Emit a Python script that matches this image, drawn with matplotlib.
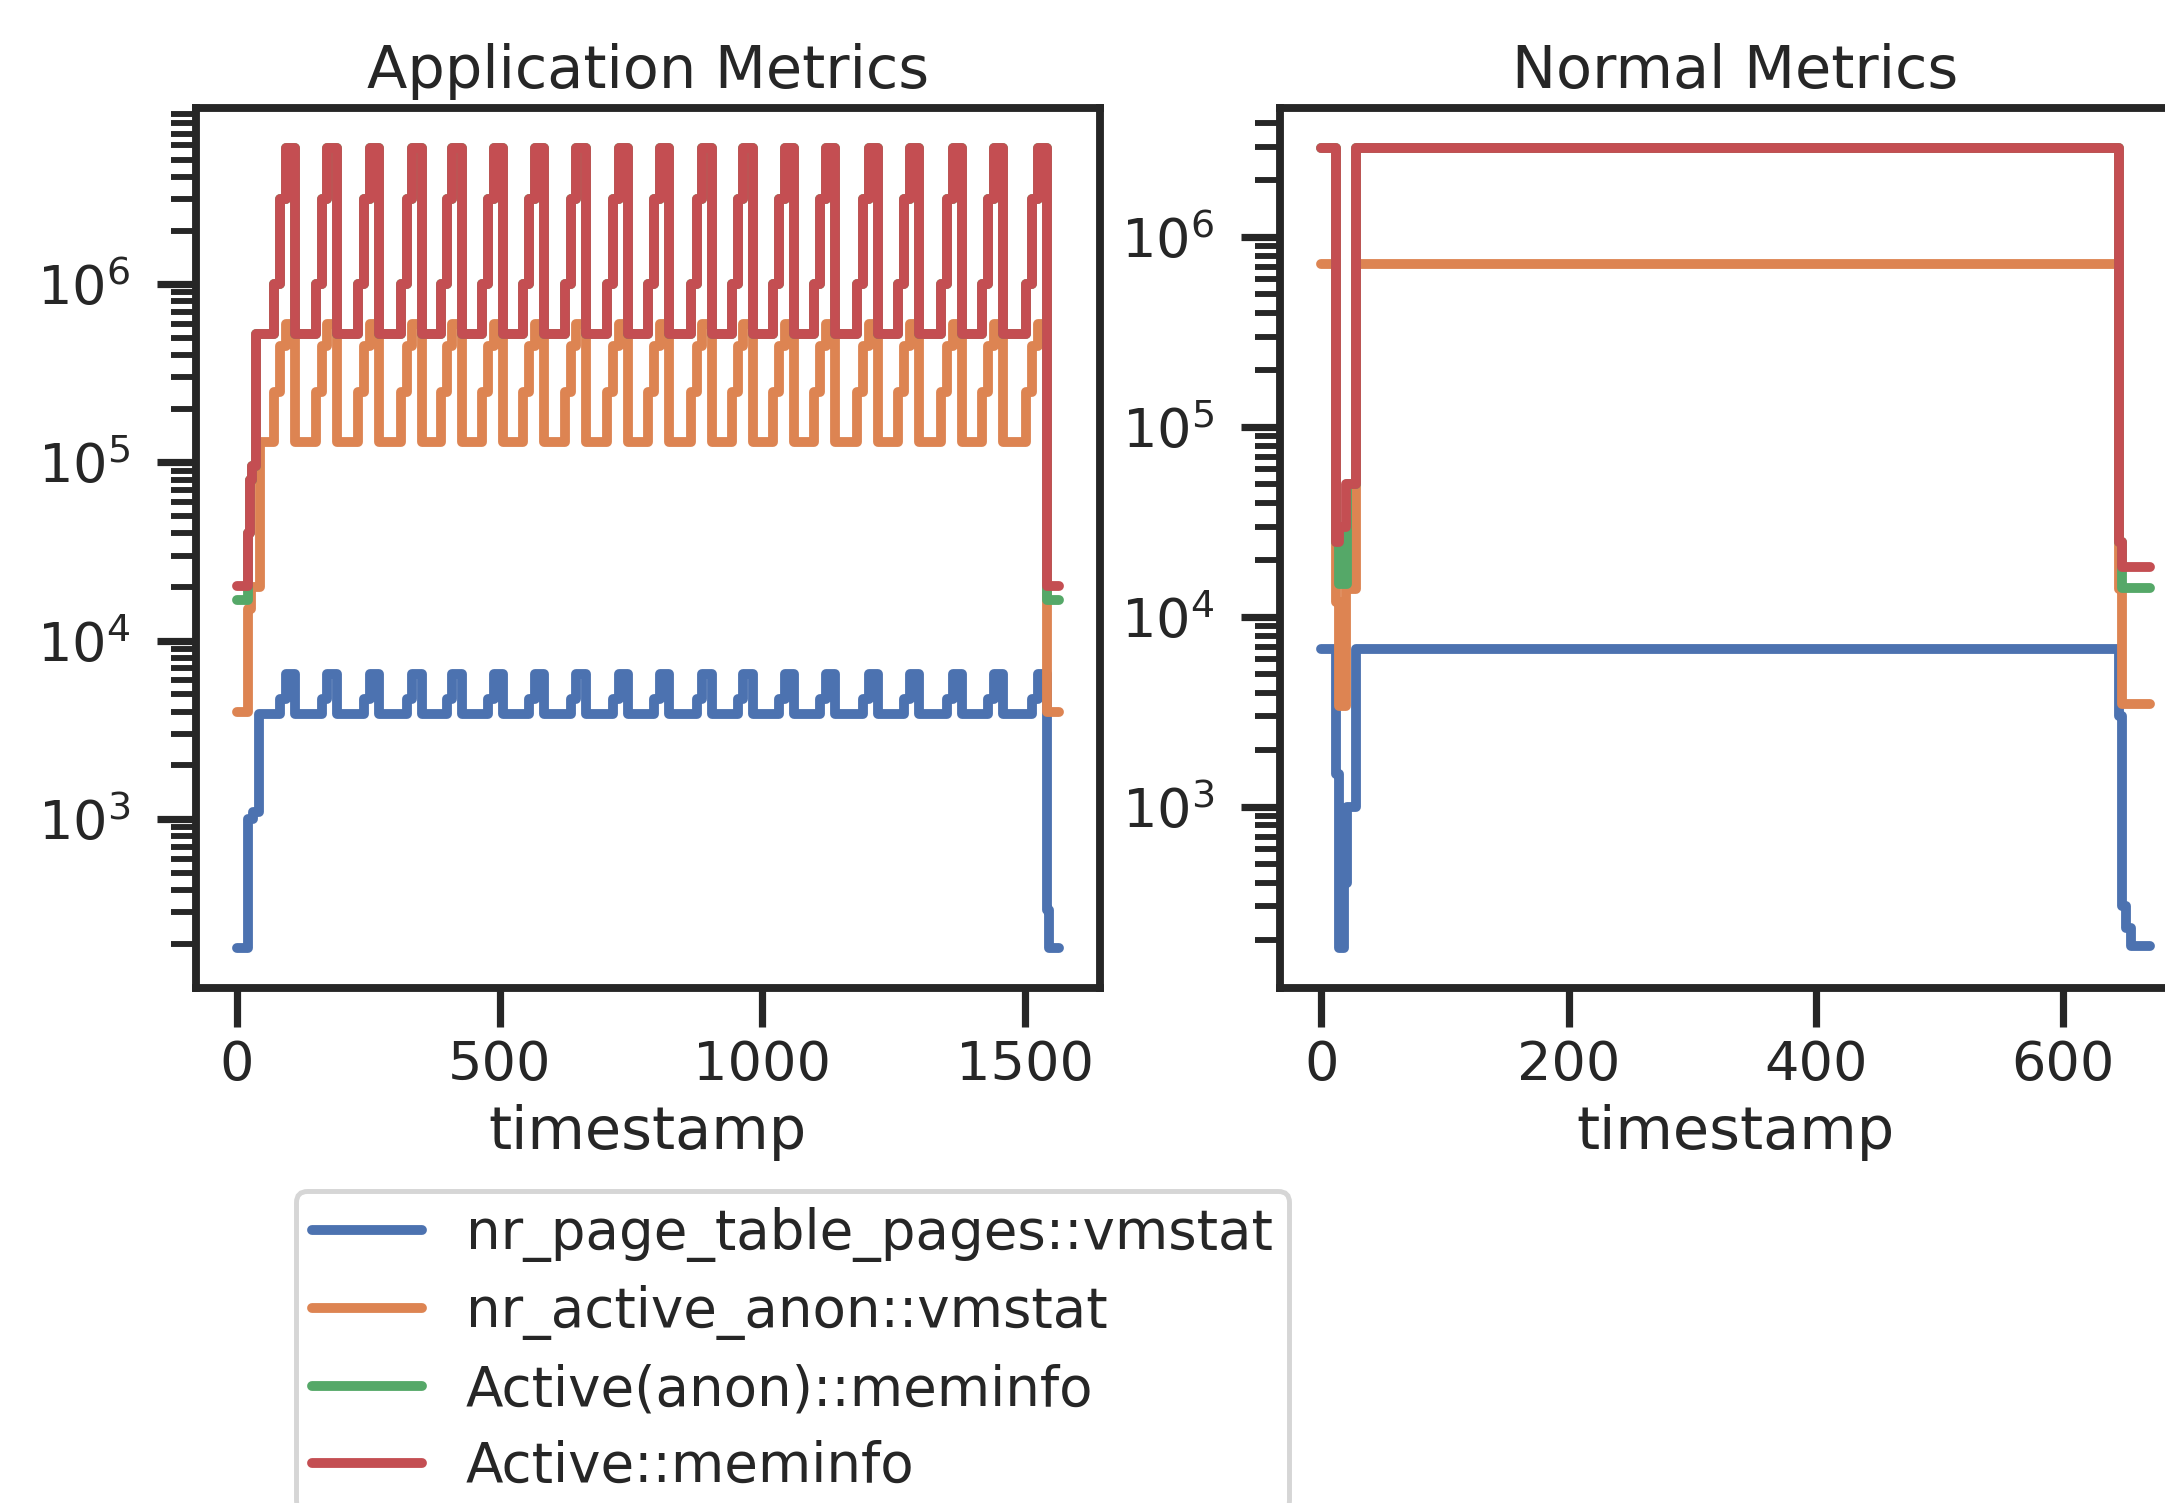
import numpy as np
import matplotlib
matplotlib.use("Agg")
import matplotlib.pyplot as plt
import seaborn as sns

# ---- data ----------------------------------------------------------------
labels = ["nr_page_table_pages::vmstat", "nr_active_anon::vmstat",
          "Active(anon)::meminfo", "Active::meminfo"]

# Application Metrics: the drop time of every spike cycle
app_drops = [111, 190, 271, 352, 428, 507, 585, 664, 745, 823,
             904, 982, 1061, 1139, 1221, 1299, 1381, 1459, 1543]
spike_offsets = [-40, -29, -18]          # steps before each drop

red_spike = [1.0e6, 3.0e6, 5.8e6]
orange_spike = [2.5e5, 4.5e5, 6.0e5]
blue_spike = [3900, 4700, 6500]

red_base = 5.25e5
orange_base = 1.3e5
blue_base = 3900

blue_app_start = ([0, 21, 30, 42], [189, 1000, 1100, 3900])
orange_app_start = ([0, 20, 26, 44], [4000, 1.5e4, 2.0e4, 1.3e5])
green_app_start = ([0, 20, 24, 28, 36], [1.69e4, 4.0e4, 8.0e4, 9.5e4, 5.25e5])
red_app_start = ([0, 20, 24, 28, 36], [2.03e4, 4.0e4, 8.0e4, 9.5e4, 5.25e5])

blue_app_end = ([1543, 1547, 1565], [310, 189, 189])
orange_app_end = ([1543, 1565], [4000, 4000])
green_app_end = ([1543, 1565], [1.69e4, 1.69e4])
red_app_end = ([1543, 1565], [2.03e4, 2.03e4])

# Normal Metrics
blue_norm_x = [0, 12, 14, 18, 21, 28, 645, 648, 651, 655, 670]
blue_norm_y = [6800, 1500, 181, 400, 1000, 6800, 3000, 300, 230, 185, 185]
orange_norm_x = [0, 12, 14, 20, 28, 645, 648, 670]
orange_norm_y = [7.2e5, 1.2e4, 3400, 1.4e4, 7.2e5, 1.4e4, 3500, 3500]
green_norm_x = [0, 12, 14, 21, 28, 645, 648, 670]
green_norm_y = [2.95e6, 2.5e4, 1.5e4, 5.0e4, 2.95e6, 2.5e4, 1.43e4, 1.43e4]
red_norm_x = [0, 12, 14, 20, 28, 645, 648, 670]
red_norm_y = [2.95e6, 2.5e4, 3.0e4, 5.0e4, 2.95e6, 2.5e4, 1.84e4, 1.84e4]


def build(start, levels, base, end):
    xs = list(start[0])
    ys = list(start[1])
    for i, d in enumerate(app_drops):
        for off, lv in zip(spike_offsets, levels):
            xs.append(d + off)
            ys.append(lv)
        if i < len(app_drops) - 1:
            xs.append(d)
            ys.append(base)
    xs += end[0]
    ys += end[1]
    return np.array(xs), np.array(ys)


app_series = [
    build(blue_app_start, blue_spike, blue_base, blue_app_end),
    build(orange_app_start, orange_spike, orange_base, orange_app_end),
    build(green_app_start, red_spike, red_base, green_app_end),
    build(red_app_start, red_spike, red_base, red_app_end),
]
norm_series = [
    (blue_norm_x, blue_norm_y),
    (orange_norm_x, orange_norm_y),
    (green_norm_x, green_norm_y),
    (red_norm_x, red_norm_y),
]

# ---- plot -----------------------------------------------------------------
sns.set_theme(style="ticks", context="talk")
plt.rcParams['font.family'] = ['DejaVu Sans']
plt.rcParams.update({
    "lines.linewidth": 3.0,
    "axes.linewidth": 2.4,
    "xtick.major.size": 12, "ytick.major.size": 12,
    "xtick.minor.size": 7.5, "ytick.minor.size": 7.5,
    "xtick.major.width": 2.2, "ytick.major.width": 2.2,
    "xtick.minor.width": 1.8, "ytick.minor.width": 1.8,
    "ytick.major.pad": 8,
})
colors = sns.color_palette("deep")

dpi = 236
fig = plt.figure(figsize=(2165 / dpi, 1503 / dpi), dpi=dpi)
ax1 = fig.add_axes([0.0905, 0.3426, 0.4176, 0.5855])
ax2 = fig.add_axes([0.5912, 0.3426, 0.4208, 0.5855])

for (x, y), c, lab in zip(app_series, colors, labels):
    ax1.plot(x, y, drawstyle="steps-post", color=c, label=lab)
for (x, y), c, lab in zip(norm_series, colors, labels):
    ax2.plot(x, y, drawstyle="steps-post", color=c, label=lab)

for ax, title in [(ax1, "Application Metrics"), (ax2, "Normal Metrics")]:
    ax.set_yscale("log")
    ax.set_title(title)
    ax.set_xlabel("timestamp")

ax2.set_xticks([0, 200, 400, 600])

handles, labs = ax1.get_legend_handles_labels()
fig.legend(handles, labs, loc="upper left", bbox_to_anchor=(0.124, 0.226),
           labelspacing=0.42, fontsize=16.7, borderpad=0.3)

plt.savefig("out.png", dpi=dpi)
